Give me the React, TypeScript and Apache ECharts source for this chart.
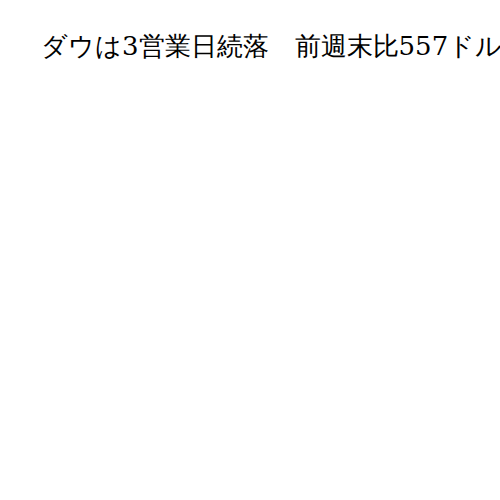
import React, { useEffect, useRef } from "react";
import * as echarts from "echarts";

const titleText = "ダウは3営業日続落　前週末比557ドル安";

export default function App() {
  const ref = useRef<HTMLDivElement>(null);
  useEffect(() => {
    document.body.style.margin = "0";
    const chart = echarts.init(ref.current!, null, { renderer: "svg" });
    chart.setOption({
      animation: false,
      backgroundColor: "#ffffff",
      graphic: [
        {
          type: "text",
          left: 41,
          top: 33,
          style: {
            text: titleText,
            font: "normal 26px DejaVu Serif",
            fill: "#000000",
          },
        },
      ],
    });
    return () => chart.dispose();
  }, []);
  return <div ref={ref} style={{ width: 500, height: 500 }} />;
}
